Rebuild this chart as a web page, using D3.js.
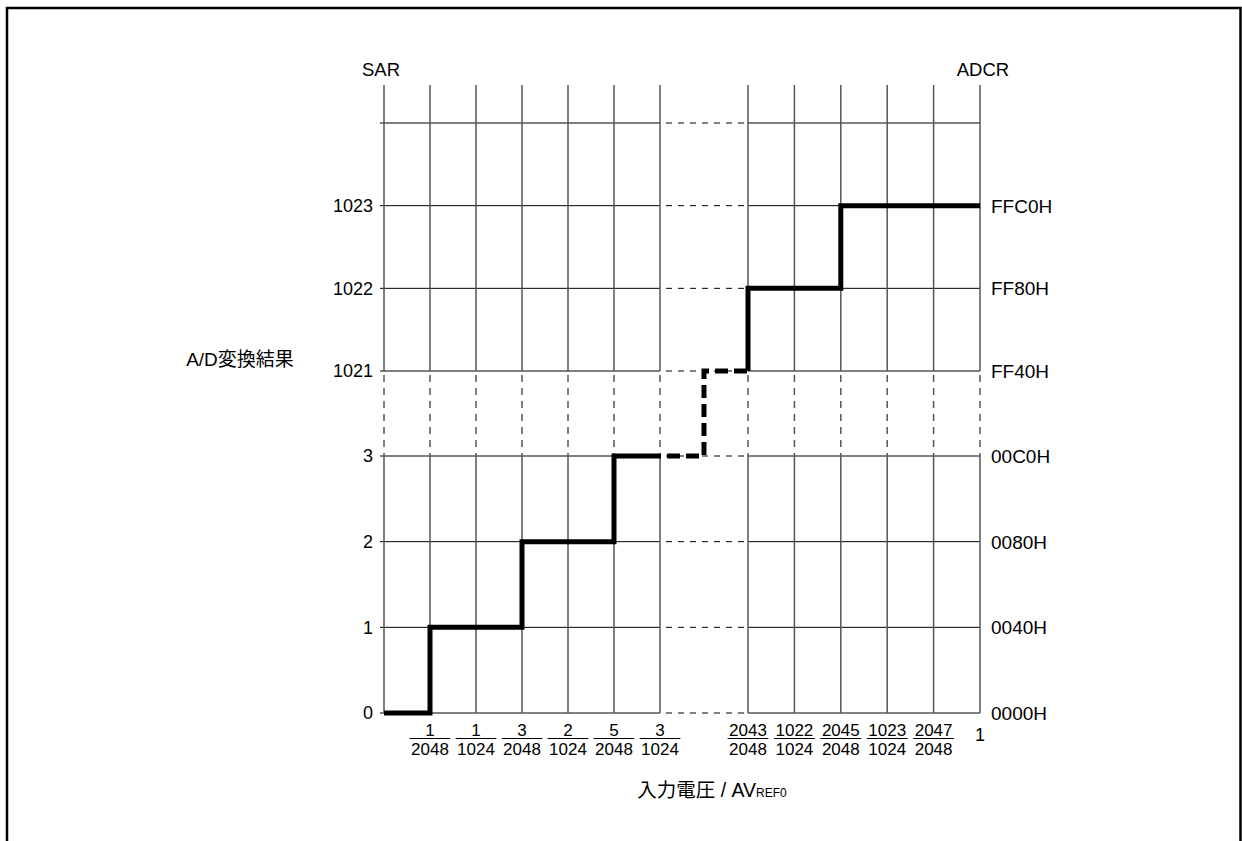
<!DOCTYPE html>
<html>
<head>
<meta charset="utf-8">
<script src="https://cdn.jsdelivr.net/npm/d3@7"></script>
<style>
  html, body { margin: 0; padding: 0; background: #fff; }
  svg text { font-family: "Liberation Sans", Arial, "Noto Sans CJK JP", sans-serif; fill: #000; }
</style>
</head>
<body>
<svg id="chart" width="1242" height="841"></svg>
<script>
// ---- data ----
// x in units of AVREF0/2048, y in SAR codes
const xGridLeft = [0, 1, 2, 3, 4, 5, 6];
const xGridRight = [2043, 2044, 2045, 2046, 2047, 2048];
const yGrid = [0, 1, 2, 3, 1021, 1022, 1023, 1024];
const xTickValues = [1, 2, 3, 4, 5, 6, 2043, 2044, 2045, 2046, 2047];
const xTickNum = ["1", "1", "3", "2", "5", "3", "2043", "1022", "2045", "1023", "2047"];
const xTickDen = ["2048", "1024", "2048", "1024", "2048", "1024", "2048", "1024", "2048", "1024", "2048"];
const xEndValue = 2048;
const xEndLabel = "1";
const yTickValues = [0, 1, 2, 3, 1021, 1022, 1023];
const yLeftLabels = ["0", "1", "2", "3", "1021", "1022", "1023"];
const yRightLabels = ["0000H", "0040H", "0080H", "00C0H", "FF40H", "FF80H", "FFC0H"];
const stepLowX = [0, 1, 3, 5, 6];
const stepLowY = [0, 1, 2, 3, 3];
const stepBreakX = [6, 1024, 2043];
const stepBreakY = [3, 1021, 1021];
const stepHighX = [2043, 2043, 2045, 2048];
const stepHighY = [1021, 1022, 1023, 1023];

// ---- layout ----
const svg = d3.select("#chart");
const x = d3.scaleLinear().domain([0, 6, 2043, 2048]).range([384, 660, 748, 980]);
const y = d3.scaleLinear().domain([0, 3, 1021, 1024]).range([713, 456, 371, 123]);
const gridTop = 85;
const tickLeft = 380;
const FS = 17;

// frame (bottom edge is outside picture)
svg.append("path")
  .attr("d", "M7,841V8H1240.5V841")
  .attr("fill", "none").attr("stroke", "#000").attr("stroke-width", 2.5);

const grid = svg.append("g");

// horizontal grid lines
yGrid.forEach(v => {
  const yy = y(v);
  grid.append("line").attr("x1", tickLeft).attr("x2", x(6)).attr("y1", yy).attr("y2", yy)
    .attr("stroke", "#000").attr("stroke-width", 1);
  grid.append("line").attr("x1", x(6)).attr("x2", x(2043)).attr("y1", yy).attr("y2", yy)
    .attr("stroke", "#000").attr("stroke-width", 1).attr("stroke-dasharray", "6,6")
    .attr("stroke-dashoffset", -6);
  grid.append("line").attr("x1", x(2043)).attr("x2", x(2048)).attr("y1", yy).attr("y2", yy)
    .attr("stroke", "#000").attr("stroke-width", 1);
});

// vertical grid lines
xGridLeft.concat(xGridRight).forEach(v => {
  const xx = x(v);
  grid.append("line").attr("x1", xx).attr("x2", xx).attr("y1", gridTop).attr("y2", y(1021))
    .attr("stroke", "#555").attr("stroke-width", 1.5);
  grid.append("line").attr("x1", xx).attr("x2", xx).attr("y1", y(1021)).attr("y2", y(3))
    .attr("stroke", "#555").attr("stroke-width", 1.5).attr("stroke-dasharray", "7,6")
    .attr("stroke-dashoffset", -4);
  grid.append("line").attr("x1", xx).attr("x2", xx).attr("y1", y(3)).attr("y2", y(0))
    .attr("stroke", "#555").attr("stroke-width", 1.5);
});

// step line
const line = d3.line().x(d => x(d[0])).y(d => y(d[1])).curve(d3.curveStepAfter);
const steps = svg.append("g").attr("fill", "none").attr("stroke", "#000")
  .attr("stroke-width", 5).attr("stroke-linejoin", "miter");
steps.append("path").attr("d", line(stepLowX.map((v, i) => [v, stepLowY[i]])));
steps.append("path").attr("d", line(stepBreakX.map((v, i) => [v, stepBreakY[i]])))
  .attr("stroke-dasharray", "13,6").attr("stroke-dashoffset", -7);
steps.append("path").attr("d", line(stepHighX.map((v, i) => [v, stepHighY[i]])));

// axis labels
const labels = svg.append("g").attr("font-size", FS);
yTickValues.forEach((v, i) => {
  labels.append("text").attr("x", 373).attr("y", y(v)).attr("dy", "0.36em")
    .attr("font-size", 18).attr("text-anchor", "end").text(yLeftLabels[i]);
  labels.append("text").attr("x", 991).attr("y", y(v)).attr("dy", "0.36em")
    .attr("font-size", 19).attr("text-anchor", "start").text(yRightLabels[i]);
});

// x fraction labels
xTickValues.forEach((v, i) => {
  const cx = x(v);
  labels.append("text").attr("x", cx).attr("y", 736).attr("text-anchor", "middle").text(xTickNum[i]);
  const den = labels.append("text").attr("x", cx).attr("y", 755).attr("text-anchor", "middle").text(xTickDen[i]);
  const w = den.node().getComputedTextLength() + 3;
  labels.append("line").attr("x1", cx - w / 2).attr("x2", cx + w / 2)
    .attr("y1", 738.5).attr("y2", 738.5).attr("stroke", "#000").attr("stroke-width", 1);
});
labels.append("text").attr("x", x(xEndValue)).attr("y", 741).attr("font-size", 18).attr("text-anchor", "middle").text(xEndLabel);

// axis titles
labels.append("text").attr("x", 381).attr("y", 76).attr("font-size", 18.5).attr("text-anchor", "middle").text("SAR");
labels.append("text").attr("x", 983).attr("y", 76).attr("font-size", 18.5).attr("text-anchor", "middle").text("ADCR");
labels.append("text").attr("x", 240).attr("y", 366).attr("font-size", 19).attr("text-anchor", "middle").text("A/D変換結果");
const xt = labels.append("text").attr("x", 712).attr("y", 797).attr("font-size", 19.5).attr("text-anchor", "middle");
xt.append("tspan").text("入力電圧 / AV");
xt.append("tspan").attr("font-size", 12).text("REF0");
</script>
</body>
</html>
